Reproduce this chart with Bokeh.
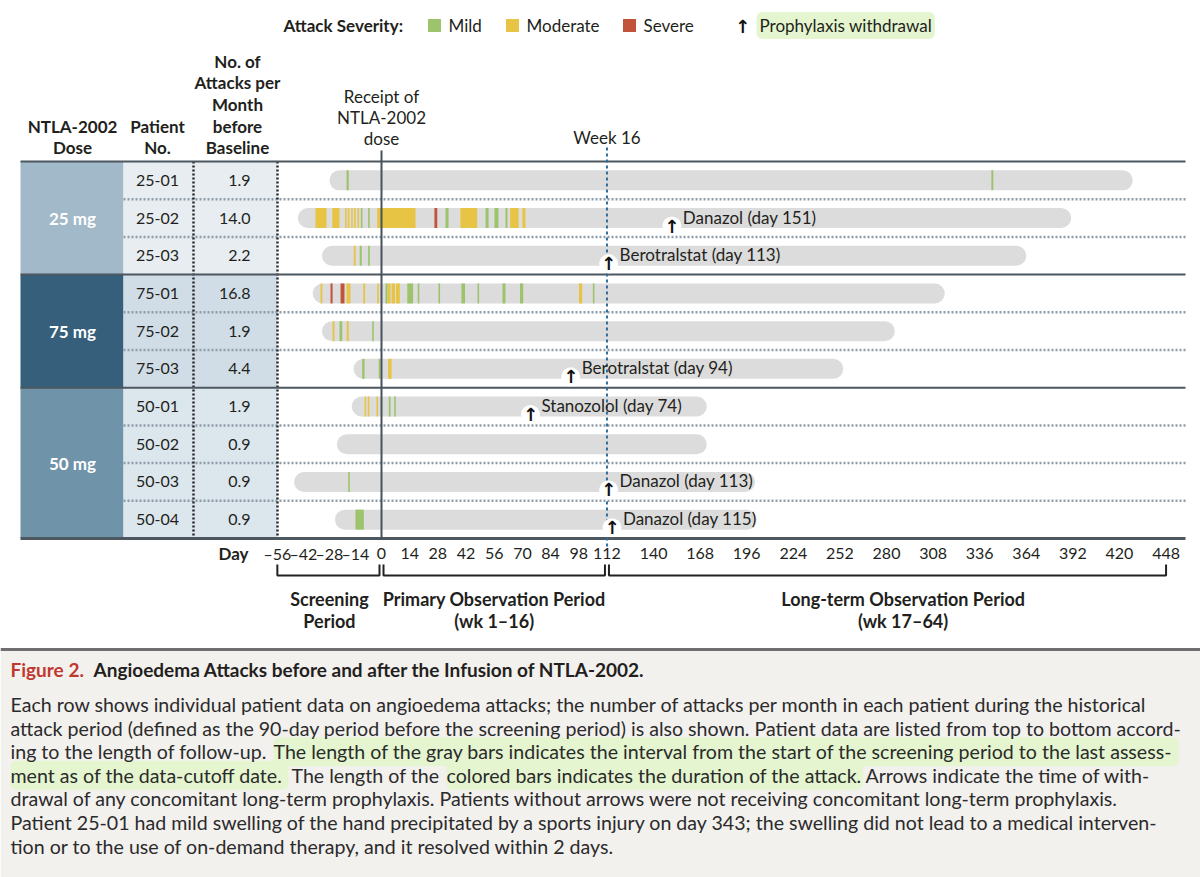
import numpy as np
from bokeh.plotting import figure
from bokeh.models import Range1d
from bokeh.core.properties import value
from bokeh.embed import file_html
from bokeh.resources import INLINE

FONT = "Lato"
W, H = 1200, 877

# ---------------- data ----------------
dose_groups = ["25 mg", "75 mg", "50 mg"]
group_sizes = [3, 3, 4]
patients = ["25-01", "25-02", "25-03", "75-01", "75-02", "75-03",
            "50-01", "50-02", "50-03", "50-04"]
attacks_per_month = ["1.9", "14.0", "2.2", "16.8", "1.9", "4.4",
                     "1.9", "0.9", "0.9", "0.9"]
followup_start_day = [-28, -45, -32, -37, -32, -15, -16, -24, -47, -25]
followup_end_day = [428, 391, 364, 315, 285, 254, 172, 172, 201, 202]

attack_patient = (["25-01"] * 2 + ["25-02"] * 18 + ["25-03"] * 3 + ["75-01"] * 19
                  + ["75-02"] * 4 + ["75-03"] * 3 + ["50-01"] * 5 + ["50-03"] + ["50-04"])
attack_start = [-18.8, 343.0,
                -35.5, -26.5, -19.6, -18.1, -16.3, -14.7, -12.9, -11.1, -7.2, -2.3,
                26.3, 31.8, 39.2, 51.7, 56.1, 61.6, 63.9, 70.0,
                -14.9, -11.7, -7.2,
                -32.8, -27.4, -22.0, -18.8, -9.8, -2.3, 2.0, 3.1, 5.0, 7.2, 12.8,
                18.0, 28.3, 39.7, 47.7, 60.1, 68.8, 98.1, 105.0,
                -26.3, -22.6, -18.7, -5.0,
                -10.4, -1.5, 3.3,
                -9.1, -7.4, -2.7, 3.6, 6.3,
                -17.9,
                -14.0]
attack_end = [-17.6, 344.2,
              -29.6, -22.6, -18.8, -17.3, -15.5, -13.9, -12.1, -10.3, -6.4, 16.9,
              27.7, 33.3, 47.5, 53.2, 58.1, 62.6, 68.1, 71.5,
              -13.9, -10.6, -6.3,
              -31.8, -26.3, -19.9, -16.7, -8.8, -1.5, 3.0, 4.5, 6.7, 9.1, 15.7,
              18.7, 29.0, 41.5, 48.4, 61.6, 70.4, 99.7, 105.7,
              -25.3, -21.1, -17.6, -4.3,
              -9.1, -0.6, 5.0,
              -8.4, -6.6, -2.0, 4.5, 7.1,
              -17.0,
              -9.5]
attack_severity = (["Mild", "Mild"]
                   + ["Moderate"] * 7 + ["Mild"] * 2 + ["Moderate", "Severe", "Mild", "Moderate",
                                                        "Mild", "Mild", "Mild", "Moderate", "Moderate"]
                   + ["Moderate", "Mild", "Mild"]
                   + ["Moderate", "Severe", "Severe", "Moderate", "Moderate", "Moderate", "Mild",
                      "Moderate", "Moderate", "Moderate", "Mild", "Mild", "Mild", "Mild", "Mild",
                      "Mild", "Mild", "Moderate", "Mild"]
                   + ["Moderate", "Mild", "Moderate", "Mild"]
                   + ["Mild", "Mild", "Moderate"]
                   + ["Moderate", "Moderate", "Moderate", "Mild", "Mild"]
                   + ["Mild"]
                   + ["Mild"])

withdrawal_patient = ["25-02", "25-03", "75-03", "50-01", "50-03", "50-04"]
withdrawal_day = [151, 113, 94, 74, 113, 115]
withdrawal_drug = ["Danazol", "Berotralstat", "Berotralstat", "Stanozolol", "Danazol", "Danazol"]

tick_days = [-56, -42, -28, -14, 0, 14, 28, 42, 56, 70, 84, 98, 112,
             140, 168, 196, 224, 252, 280, 308, 336, 364, 392, 420, 448]
period_names = [["Screening", "Period"],
                ["Primary Observation Period", "(wk 1\u201316)"],
                ["Long-term Observation Period", "(wk 17\u201364)"]]
period_bounds = [(-56, 0), (0, 112), (112, 448)]
period_label_day = [-28, 56, 290]

severity_levels = ["Mild", "Moderate", "Severe"]
severity_colors = ["#9dc46c", "#e7c443", "#c1533a"]

caption_title = ["Figure 2.", "Angioedema Attacks before and after the Infusion of NTLA-2002."]
caption_lines = [
    [("Each row shows individual patient data on angioedema attacks; the number of attacks per month in each patient during the historical", False)],
    [("attack period (defined as the 90-day period before the screening period) is also shown. Patient data are listed from top to bottom accord-", False)],
    [("ing to the length of follow-up.", False),
     ("The length of the gray bars indicates the interval from the start of the screening period to the last assess-", True)],
    [("ment as of the data-cutoff date.", True), ("The length of the", False),
     ("colored bars indicates the duration of the attack", True), (". Arrows indicate the time of with-", False)],
    [("drawal of any concomitant long-term prophylaxis. Patients without arrows were not receiving concomitant long-term prophylaxis.", False)],
    [("Patient 25-01 had mild swelling of the hand precipitated by a sports injury on day 343; the swelling did not lead to a medical interven-", False)],
    [("tion or to the use of on-demand therapy, and it resolved within 2 days.", False)],
]

# ---------------- scales (broken day axis: screening / primary / long-term) ----------------
X_DAY0 = 381.0
PX_SCREEN = 1.86
PX_PRIMARY = 2.013
X_DAY112 = X_DAY0 + PX_PRIMARY * 112
PX_LONG = 1.664


def xday(d):
    d = np.asarray(d, dtype=float)
    return np.where(d < 0, X_DAY0 + PX_SCREEN * d,
                    np.where(d <= 112, X_DAY0 + PX_PRIMARY * d, X_DAY112 + PX_LONG * (d - 112)))


TOP = 161.0
ROW_H = 37.7


def yrow(i):
    return TOP + ROW_H * (np.asarray(i, dtype=float) + 0.5)


row_of = {pid: i for i, pid in enumerate(patients)}
INK = "#231f20"
HL = "#e4f5cf"

p = figure(width=W, height=H, x_range=Range1d(0, W), y_range=Range1d(H, 0),
           x_axis_type=None, y_axis_type=None, output_backend="svg",
           toolbar_location=None, min_border=0, outline_line_color=None)
p.grid.visible = False
p.background_fill_color = "white"
p.border_fill_color = "white"


def txt(x, y, s, size=17, bold=False, color=INK, align="left", baseline="middle",
        font=FONT, bg=None, alpha=1.0):
    xs = np.atleast_1d(np.asarray(x, dtype=float))
    yv = np.atleast_1d(np.asarray(y, dtype=float))
    sv = np.atleast_1d(np.asarray(s, dtype=object))
    n = max(len(xs), len(yv), len(sv))
    xs = np.broadcast_to(xs, (n,)).tolist()
    yv = np.broadcast_to(yv, (n,)).tolist()
    sv = [str(t) for t in np.broadcast_to(sv, (n,)).tolist()]
    kw = {}
    if bg is not None:
        kw = dict(background_fill_color=bg, padding=3, border_radius=6)
    p.text(x=xs, y=yv, text=sv,
           text_font=value(font), text_font_size=value(f"{size}px"),
           text_font_style="bold" if bold else "normal", text_color=color, text_alpha=alpha,
           text_align=align, text_baseline=baseline, **kw)


# ---------------- table backgrounds ----------------
dose_fill = ["#a1b9c8", "#355f7b", "#6f93a9"]
cell_fill = ["#e7edf1", "#d0dde7", "#dce6ed"]
bounds = np.cumsum([0] + group_sizes)
gtop = TOP + ROW_H * bounds[:-1]
gbot = TOP + ROW_H * bounds[1:]
p.quad(left=20, right=123, top=list(gtop), bottom=list(gbot), fill_color=dose_fill, line_color=None)
p.quad(left=123, right=277, top=list(gtop), bottom=list(gbot), fill_color=cell_fill, line_color=None)
txt(72, (gtop + gbot) / 2, dose_groups, size=17, bold=True, color="white", align="center")

rows = np.arange(len(patients))
txt(157, yrow(rows), patients, size=16, align="center")
txt(250, yrow(rows), attacks_per_month, size=16, align="right")

# ---------------- grid lines ----------------
inner = [k for k in range(1, len(patients)) if k not in bounds]
p.segment(x0=123, x1=1185, y0=[TOP + ROW_H * k for k in inner], y1=[TOP + ROW_H * k for k in inner],
          line_color="#8d9ca8", line_width=2.5, line_dash="2 2")
p.segment(x0=[193, 277], x1=[193, 277], y0=TOP, y1=TOP + ROW_H * len(patients),
          line_color="#2a2a2a", line_width=2.5, line_dash="2 2")

# ---------------- follow-up bars ----------------
ys = yrow(rows)
xs0 = xday(followup_start_day) + 10
xs1 = xday(followup_end_day) - 10
p.segment(x0=list(xs0), x1=list(xs1), y0=list(ys), y1=list(ys), line_color="#dcdcdc",
          line_width=20, line_cap="round")

# ---------------- attacks ----------------
ay = yrow([row_of[a] for a in attack_patient])
al = xday(attack_start)
ar = np.maximum(xday(attack_end), al + 1.6)
acol = [severity_colors[severity_levels.index(s)] for s in attack_severity]
p.quad(left=list(al), right=list(ar), top=list(ay - 10), bottom=list(ay + 10),
       fill_color=acol, line_color=None)

# ---------------- reference lines ----------------
p.segment(x0=[20] * 3, x1=[1185] * 3, y0=list(TOP + ROW_H * bounds[:-1]),
          y1=list(TOP + ROW_H * bounds[:-1]), line_color="#4c5760", line_width=2)
ybot = TOP + ROW_H * len(patients)
p.segment(x0=20, x1=1185, y0=ybot, y1=ybot, line_color="#4c5760", line_width=3)
x0 = float(xday(0))
p.segment(x0=x0, x1=x0, y0=150, y1=ybot, line_color="#46525c", line_width=2)
x112 = float(xday(112))
p.segment(x0=x112, x1=x112, y0=147, y1=546, line_color="#2e6c9b", line_width=2, line_dash="3 3")

# ---------------- withdrawal arrows ----------------
wy = yrow([row_of[w] for w in withdrawal_patient])
wx = xday(withdrawal_day)
p.scatter(x=list(wx), y=list(wy + 8), size=19, marker="circle", fill_color="white", line_color=None)
txt(wx, wy + 8, "\u2191", size=18, bold=True, color="#111", align="center", font="DejaVu Sans")
txt(wx + 11, wy - 1, [f"{d} (day {n})" for d, n in zip(withdrawal_drug, withdrawal_day)], size=17)

# ---------------- day axis ----------------
tick_lbl = [(f"\u2013{-t}" if t < 0 else str(t)) for t in tick_days]
txt(xday(tick_days), 553, tick_lbl, size=16, align="center")
txt(248, 553, "Day", size=17, bold=True, align="right")

bx, by = [], []
for a, b in period_bounds:
    l = float(xday(a)) + (2 if a != -56 else 0)
    r = float(xday(b)) - (2 if b != 448 else 0)
    bx.append([l, l, r, r])
    by.append([564, 575, 575, 564])
p.multi_line(xs=bx, ys=by, line_color="#222", line_width=2)
for (l1, l2), d in zip(period_names, period_label_day):
    xc = float(xday(d))
    txt(xc, [598, 620], [l1, l2], size=18, bold=True, align="center")

# ---------------- headers ----------------
txt(72, [126, 147], ["NTLA-2002", "Dose"], size=17, bold=True, align="center")
txt(157, [126, 147], ["Patient", "No."], size=17, bold=True, align="center")
txt(237, [61, 82, 104, 126, 147], ["No. of", "Attacks per", "Month", "before", "Baseline"],
    size=17, bold=True, align="center")
txt(x0, [96, 117, 138], ["Receipt of", "NTLA-2002", "dose"], size=17, align="center")
txt(x112, 137, "Week 16", size=17, align="center")

# ---------------- legend ----------------
txt(283, 25, "Attack Severity:", size=17, bold=True)
leg_x = [434, 512, 629]
p.scatter(x=leg_x, y=[25] * 3, marker="square", size=13, fill_color=severity_colors, line_color=None)
txt([x + 14 for x in leg_x], 25, severity_levels, size=17)
txt(742, 26, "\u2191", size=18, bold=True, color="#111", align="center", font="DejaVu Sans")
txt(756, 25, "Prophylaxis withdrawal", size=17, bg=HL)

# ---------------- caption ----------------
p.quad(left=0, right=W, top=649, bottom=H, fill_color="#f3f1ee", line_color=None)
p.segment(x0=0, x1=W, y0=649, y1=649, line_color="#6e6e6e", line_width=3)
txt(10, 669, caption_title[0], size=19, bold=True, color="#c0392f")
txt(93, 669, caption_title[1], size=19, bold=True, color="#231f20")

CAP_SIZE = 19.6
seg_x = {(2, 0): 10, (2, 1): 273, (3, 0): 10, (3, 1): 291, (3, 2): 446, (3, 3): 856}
placed = []
for li, segs in enumerate(caption_lines):
    y = 704 + li * 23.6
    for si, (s, hl) in enumerate(segs):
        placed.append((seg_x.get((li, si), 10), y, s, hl))
# highlight backgrounds first, so no highlight covers a neighbouring line's text
for sx, y, s, hl in placed:
    if hl:
        txt(sx, y, s, size=CAP_SIZE, color="#2b2b2b", bg=HL, alpha=0.0)
for sx, y, s, hl in placed:
    txt(sx, y, s, size=CAP_SIZE, color="#2b2b2b")

open("out.html", "w").write(file_html(p, INLINE))
